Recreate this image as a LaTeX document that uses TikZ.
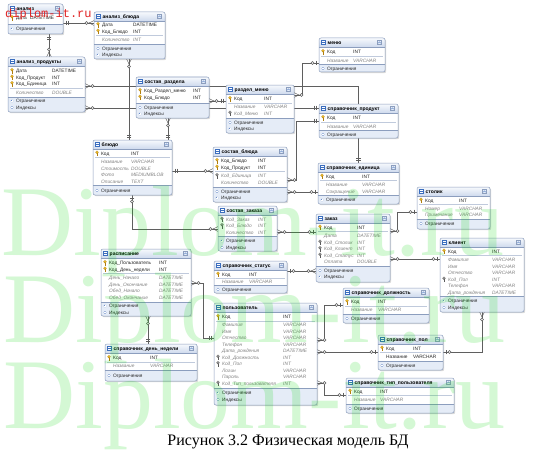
\documentclass[tikz,border=0pt]{standalone}
\usepackage{fontspec}
\setmainfont{Liberation Sans}
\newfontfamily\capfont{Liberation Serif}
\newfontfamily\wmmono{Liberation Mono}
\usetikzlibrary{fit,shadows,decorations.markings,backgrounds}

\definecolor{bordc}{RGB}{140,158,190}
\definecolor{hdrtop}{RGB}{247,249,253}
\definecolor{hdrbot}{RGB}{206,218,237}
\definecolor{bandc}{RGB}{229,236,247}
\definecolor{sepc}{RGB}{192,202,220}
\definecolor{attrc}{RGB}{130,130,130}
\definecolor{linec}{RGB}{95,95,95}
\definecolor{keyc}{RGB}{242,192,40}
\definecolor{keyd}{RGB}{175,125,15}
\definecolor{fkc}{RGB}{150,150,150}
\definecolor{fkd}{RGB}{90,90,90}
\definecolor{plusc}{RGB}{95,130,195}
\definecolor{iconc}{RGB}{60,110,190}
\definecolor{wmred}{RGB}{225,35,35}
\definecolor{wmgreen}{RGB}{0,215,0}

\newcounter{rn}

\tikzset{
  tblbox/.style={fill=white, inner sep=0pt, outer sep=0pt, rounded corners=2pt,
    drop shadow={shadow xshift=1.2pt, shadow yshift=-1.2pt, opacity=0.3}},
  ttl/.style={font=\fontsize{5}{6}\selectfont\bfseries, inner sep=0pt, anchor=base west, text=black},
  fld/.style={font=\fontsize{4.8}{5.5}\selectfont, inner sep=0pt, anchor=base west, text=black!85},
  att/.style={font=\fontsize{4.8}{5.5}\selectfont\itshape, inner sep=0pt, anchor=base west, text=attrc},
  conn/.style={draw=linec, line width=0.55pt},
  crowS/.style={postaction={decorate,decoration={markings,mark=at position 0 with {\draw[linec,line width=0.5pt] (0,2.4pt)--(5pt,0)--(0,-2.4pt); \draw[linec,line width=0.5pt,fill=white] (7.5pt,0) circle (1.5pt);}}}},
  crowE/.style={postaction={decorate,decoration={markings,mark=at position 1 with {\draw[linec,line width=0.5pt] (0,2.4pt)--(-5pt,0)--(0,-2.4pt); \draw[linec,line width=0.5pt,fill=white] (-7.5pt,0) circle (1.5pt);}}}},
  oneS/.style={postaction={decorate,decoration={markings,mark=at position 0 with {\draw[linec,line width=0.5pt] (3pt,2.4pt)--(3pt,-2.4pt) (5pt,2.4pt)--(5pt,-2.4pt);}}}},
  oneE/.style={postaction={decorate,decoration={markings,mark=at position 1 with {\draw[linec,line width=0.5pt] (-3pt,2.4pt)--(-3pt,-2.4pt) (-5pt,2.4pt)--(-5pt,-2.4pt);}}}},
  zoS/.style={postaction={decorate,decoration={markings,mark=at position 0 with {\draw[linec,line width=0.5pt] (3pt,2.4pt)--(3pt,-2.4pt); \draw[linec,line width=0.5pt,fill=white] (6.5pt,0) circle (1.5pt);}}}},
  zoE/.style={postaction={decorate,decoration={markings,mark=at position 1 with {\draw[linec,line width=0.5pt] (-3pt,2.4pt)--(-3pt,-2.4pt); \draw[linec,line width=0.5pt,fill=white] (-6.5pt,0) circle (1.5pt);}}}},
  wmtxt/.style={font=\capfont\fontsize{100}{100}\selectfont, text=wmgreen, text opacity=0.17, inner sep=0pt, anchor=base west},
}

% table: name x1 y1 x2 y2 title typecol bandY
\newcommand\ertbl[8]{%
  \def\tx{#2}\def\txx{#4}\def\tc{#7}\def\tn{#1}%
  \node[tblbox, fit={(#2,#3) (#4,#5)}] (#1) {};
  \begin{scope}
    \clip[rounded corners=2pt] (#2,#3) rectangle (#4,#5);
    \shade[top color=hdrtop, bottom color=hdrbot] (#2,#3) rectangle (#4,#3+9);
    \fill[bandc] (#2,#8) rectangle (#4,#5);
  \end{scope}
  \draw[bordc, line width=0.3pt] (#2,#3+9) -- (#4,#3+9);
  \draw[bordc, line width=0.3pt] (#2,#8) -- (#4,#8);
  \draw[bordc, line width=0.5pt, rounded corners=2pt] (#1.north west) rectangle (#1.south east);
  \draw[iconc, fill=white, line width=0.35pt] (#2+2.5,#3+2.5) rectangle (#2+6.5,#3+6.5);
  \draw[iconc, line width=0.35pt] (#2+2.5,#3+3.8) -- (#2+6.5,#3+3.8);
  \draw[bordc, fill=bandc, line width=0.3pt] (#4-7.5,#3+2.5) rectangle (#4-3.5,#3+6.5);
  \draw[iconc, line width=0.3pt] (#4-6.7,#3+5.2) -- (#4-5.5,#3+3.8) -- (#4-4.3,#3+5.2);
  \node[ttl] (#1-t) at (#2+8.5,#3+6.3) {#6};
}
\newcommand\erkey[4]{% x y fill dark
  \fill[#4] (#1-0.45,#2-0.5) rectangle (#1+0.45,#2+2.6);
  \fill[#4] (#1+0.45,#2+1.7) rectangle (#1+1.3,#2+2.3);
  \filldraw[fill=#3, draw=#4, line width=0.25pt] (#1,#2-1.3) circle (1.4pt);
}
\newcommand\erk[3]{% key row
  \erkey{\tx+4}{#1}{keyc}{keyd}
  \stepcounter{rn}%
  \node[fld] (\tn-n\arabic{rn}) at (\tx+8,#1+1.7) {#2};
  \node[fld] (\tn-y\arabic{rn}) at (\tc,#1+1.7) {#3};
}
\newcommand\erf[3]{% foreign key row
  \erkey{\tx+4}{#1}{fkc}{fkd}
  \stepcounter{rn}%
  \node[att] (\tn-n\arabic{rn}) at (\tx+8,#1+1.7) {#2};
  \node[att] (\tn-y\arabic{rn}) at (\tc,#1+1.7) {#3};
}
\newcommand\era[3]{% attribute row
  \stepcounter{rn}%
  \node[att] (\tn-n\arabic{rn}) at (\tx+8,#1+1.7) {#2};
  \node[att] (\tn-y\arabic{rn}) at (\tc,#1+1.7) {#3};
}
\newcommand\ern[3]{% plain row
  \stepcounter{rn}%
  \node[fld] (\tn-n\arabic{rn}) at (\tx+8,#1+1.7) {#2};
  \node[fld] (\tn-y\arabic{rn}) at (\tc,#1+1.7) {#3};
}
\newcommand\erp[2]{% section row
  \fill[plusc] (\tx+4,#1) circle (1.3pt);
  \draw[white, line width=0.3pt] (\tx+3.2,#1) -- (\tx+4.8,#1) (\tx+4,#1-0.8) -- (\tx+4,#1+0.8);
  \stepcounter{rn}%
  \node[fld] (\tn-n\arabic{rn}) at (\tx+8,#1+1.7) {#2};
}
\newcommand\ers[1]{\draw[sepc, line width=0.3pt] (\tx+2,#1) -- (\txx-2,#1);}

\begin{document}
\begin{tikzpicture}[x=1pt,y=-1pt]
\useasboundingbox (0,0) rectangle (538,460);

% ---------- tables ----------
\ertbl{an}{8}{4}{63}{34}{анализ}{30}{24}
\erk{18}{Дата}{DATETIME}
\erp{29}{Ограничения}

\ertbl{anb}{94}{12}{165}{59}{анализ\_блюда}{133}{44}
\erk{25}{Дата}{DATETIME}
\erk{31.5}{Код\_Блюдо}{INT}
\ers{35.5}
\era{40}{Количество}{INT}
\erp{48.5}{Ограничения}
\erp{55}{Индексы}

\ertbl{anp}{8}{57}{85}{112}{анализ\_продукты}{52}{97}
\erk{71}{Дата}{DATETIME}
\erk{77.5}{Код\_Продукт}{INT}
\erk{84}{Код\_Единица}{INT}
\ers{88.5}
\era{93}{Количество}{DOUBLE}
\erp{101}{Ограничения}
\erp{107.5}{Индексы}

\ertbl{ssr}{136}{77}{209}{118}{состав\_раздела}{193}{103}
\erk{91}{Код\_Раздел\_меню}{INT}
\erk{97.5}{Код\_Блюдо}{INT}
\erp{107.5}{Ограничения}
\erp{114}{Индексы}

\ertbl{rm}{226}{85}{294}{133}{раздел\_меню}{264}{118}
\erk{99}{Код}{INT}
\ers{103}
\era{107}{Название}{VARCHAR}
\erf{113.5}{Код\_Меню}{INT}
\erp{122.5}{Ограничения}
\erp{129}{Индексы}

\ertbl{menu}{319}{38}{385}{72}{меню}{353}{64.5}
\erk{52}{Код}{INT}
\ers{56}
\era{60.5}{Название}{VARCHAR}
\erp{68.5}{Ограничения}

\ertbl{sp}{319}{104}{398}{138}{справочник\_продукт}{353}{130.5}
\erk{118}{Код}{INT}
\ers{122}
\era{126.5}{Название}{VARCHAR}
\erp{134.5}{Ограничения}

\ertbl{bl}{93}{140}{172}{195}{блюдо}{131}{185.5}
\erk{153.5}{Код}{INT}
\ers{157.5}
\era{162}{Название}{VARCHAR}
\era{168.5}{Стоимость}{DOUBLE}
\era{175}{Фото}{MEDIUMBLOB}
\era{181.5}{Описание}{TEXT}
\erp{190.5}{Ограничения}

\ertbl{sb}{213}{147}{287}{202}{состав\_блюда}{258}{187}
\erk{161}{Код\_Блюдо}{INT}
\erk{167.5}{Код\_Продукт}{INT}
\ers{171.5}
\erf{176}{Код\_Единица}{INT}
\era{182.5}{Количество}{DOUBLE}
\erp{191.5}{Ограничения}
\erp{198}{Индексы}

\ertbl{se}{318}{163}{399}{204}{справочник\_единица}{362}{195.5}
\erk{176.5}{Код}{INT}
\ers{180.5}
\era{185}{Название}{VARCHAR}
\era{191.5}{Сокращение}{VARCHAR}
\erp{200}{Ограничения}

\ertbl{sz}{218}{206}{277}{251}{состав\_заказа}{258}{236.5}
\erf{219.5}{Код\_Заказ}{INT}
\erf{226}{Код\_Блюдо}{INT}
\era{232.5}{Количество}{INT}
\erp{241}{Ограничения}
\erp{247.5}{Индексы}

\ertbl{zk}{316}{214}{390}{282}{заказ}{357}{266}
\erk{227.5}{Код}{INT}
\ers{231.5}
\era{236}{Дата}{DATETIME}
\erf{242.5}{Код\_Столик}{INT}
\erf{249}{Код\_Клиент}{INT}
\erf{255.5}{Код\_Статус}{INT}
\era{262}{Оплата}{DOUBLE}
\erp{270.5}{Ограничения}
\erp{277}{Индексы}

\ertbl{st}{417}{187}{490}{229}{столик}{459}{219}
\erk{200.5}{Код}{INT}
\ers{204.5}
\era{209}{Номер}{VARCHAR}
\era{215}{Примечание}{VARCHAR}
\erp{223.5}{Ограничения}

\ertbl{kl}{440}{238}{524}{312}{клиент}{492}{296.5}
\erk{251.5}{Код}{INT}
\ers{255.5}
\era{260}{Фамилия}{VARCHAR}
\era{266.5}{Имя}{VARCHAR}
\era{273}{Отчество}{VARCHAR}
\erf{279.5}{Код\_Пол}{INT}
\era{286}{Телефон}{VARCHAR}
\era{292.5}{Дата\_рождения}{DATETIME}
\erp{301}{Ограничения}
\erp{307.5}{Индексы}

\ertbl{ss}{214}{261}{287}{293}{справочник\_статус}{249}{285.5}
\erk{274.5}{Код}{INT}
\ers{278}
\era{282}{Название}{VARCHAR}
\erp{289.5}{Ограничения}

\ertbl{rs}{101}{249}{191}{316}{расписание}{159}{302}
\erk{263}{Код\_Пользователь}{INT}
\erk{269.5}{Код\_День\_недели}{INT}
\ers{273.5}
\era{278}{День\_Начало}{DATETIME}
\era{284.5}{День\_Окончание}{DATETIME}
\era{291}{Обед\_Начало}{DATETIME}
\era{297.5}{Обед\_Окончание}{DATETIME}
\erp{306}{Ограничения}
\erp{312.5}{Индексы}

\ertbl{sdn}{105}{344}{197}{381}{справочник\_день\_недели}{150}{370.5}
\erk{358}{Код}{INT}
\ers{362}
\era{366}{Название}{VARCHAR}
\erp{375.5}{Ограничения}

\ertbl{pz}{214}{303}{317}{405}{пользователь}{283}{388.5}
\erk{317}{Код}{INT}
\ers{321}
\era{325}{Фамилия}{VARCHAR}
\era{331.5}{Имя}{VARCHAR}
\era{338}{Отчество}{VARCHAR}
\era{344.5}{Телефон}{VARCHAR}
\era{351}{Дата\_рождения}{DATETIME}
\erf{357.5}{Код\_Должность}{INT}
\erf{364}{Код\_Пол}{INT}
\era{370.5}{Логин}{VARCHAR}
\era{377}{Пароль}{VARCHAR}
\erf{383.5}{Код\_Тип\_пользователя}{INT}
\erp{393}{Ограничения}
\erp{399.5}{Индексы}

\ertbl{sd}{343}{288}{429}{323}{справочник\_должность}{378}{314.5}
\erk{302}{Код}{INT}
\ers{306}
\era{310}{Название}{VARCHAR}
\erp{318.5}{Ограничения}

\ertbl{spol}{378}{335}{443}{370}{справочник\_пол}{413}{361}
\erk{348.5}{Код}{INT}
\ers{352.5}
\ern{356.5}{Название}{VARCHAR}
\erp{365.5}{Ограничения}

\ertbl{stp}{346}{378}{454}{413}{справочник\_тип\_пользователя}{380}{404}
\erk{391.5}{Код}{INT}
\ers{395.5}
\era{399.5}{Название}{VARCHAR}
\erp{408.5}{Ограничения}

% ---------- connectors ----------
\begin{pgfonlayer}{background}
\fill[white] (0,0) rectangle (538,460);
\draw[conn,oneS,crowE] (an.east |- 0,23) -- (anb.west |- 0,23);
\draw[conn,oneS,crowE] (49,0 |- an.south) -- (49,0 |- anp.north);
\draw[conn,crowS,oneE] (anp.east |- 0,86) -| (se.north);
\draw[conn,crowS,oneE] (anp.east |- 0,108) -- (sp.west |- 0,108);
\draw[conn,crowS,oneE] (129,0 |- anb.south) -- (129,0 |- bl.north);
\draw[conn,crowS,oneE] (168,0 |- ssr.south) -- (168,0 |- bl.north);
\draw[conn,crowS,oneE] (ssr.east |- 0,101) -- (rm.west |- 0,101);
\draw[conn,crowS,zoE] (rm.east |- 0,95) -- ++(8,0) |- (menu.west |- 0,63);
\draw[conn,crowS,oneE] (sb.east |- 0,180) -- ++(9,0) |- (sp.west |- 0,121);
\draw[conn,crowS,zoE] (sb.east |- 0,192) -- (se.west |- 0,192);
\draw[conn,oneS,crowE] (bl.east |- 0,171) -- (sb.west |- 0,171);
\draw[conn,zoS,crowE] (132,0 |- bl.south) |- (sz.west |- 0,229);
\draw[conn,crowS,zoE] (sz.east |- 0,232) -- (zk.west |- 0,232);
\draw[conn,crowS,zoE] (zk.east |- 0,231) -- ++(7,0) |- (st.west |- 0,212);
\draw[conn,crowS,zoE] (zk.east |- 0,259) -- (kl.west |- 0,259);
\draw[conn,crowS,zoE] (zk.west |- 0,271) -- (ss.east |- 0,271);
\draw[conn,crowS,zoE] (482,0 |- kl.south) |- (spol.east |- 0,352);
\draw[conn,crowS,zoE] (pz.east |- 0,340) -- ++(7,0) |- (sd.west |- 0,305);
\draw[conn,crowS,zoE] (pz.east |- 0,352) -- (spol.west |- 0,352);
\draw[conn,crowS,zoE] (pz.east |- 0,383) -- ++(7,0) |- (stp.west |- 0,395);
\draw[conn,crowS,oneE] (rs.east |- 0,283) -- ++(12,0) |- (pz.west |- 0,338);
\draw[conn,crowS,oneE] (148,0 |- rs.south) -- (148,0 |- sdn.north);
\end{pgfonlayer}

% ---------- caption and watermarks ----------
\node[font=\capfont\fontsize{16}{16}\selectfont, anchor=base, inner sep=0pt] (cap) at (288,445) {Рисунок 3.2 Физическая модель БД};
\node[wmtxt] (wm1) at (1,255) {Diplom-it.ru};
\node[wmtxt] (wm2) at (3,342) {Diplom-it.ru};
\node[wmtxt] (wm3) at (3,428) {Diplom-it.ru};
\node[font=\wmmono\fontsize{12}{12}\selectfont, text=wmred, anchor=base west, inner sep=0pt] (wmr) at (5,17.5) {diplom-it.ru};
\end{tikzpicture}
\end{document}
